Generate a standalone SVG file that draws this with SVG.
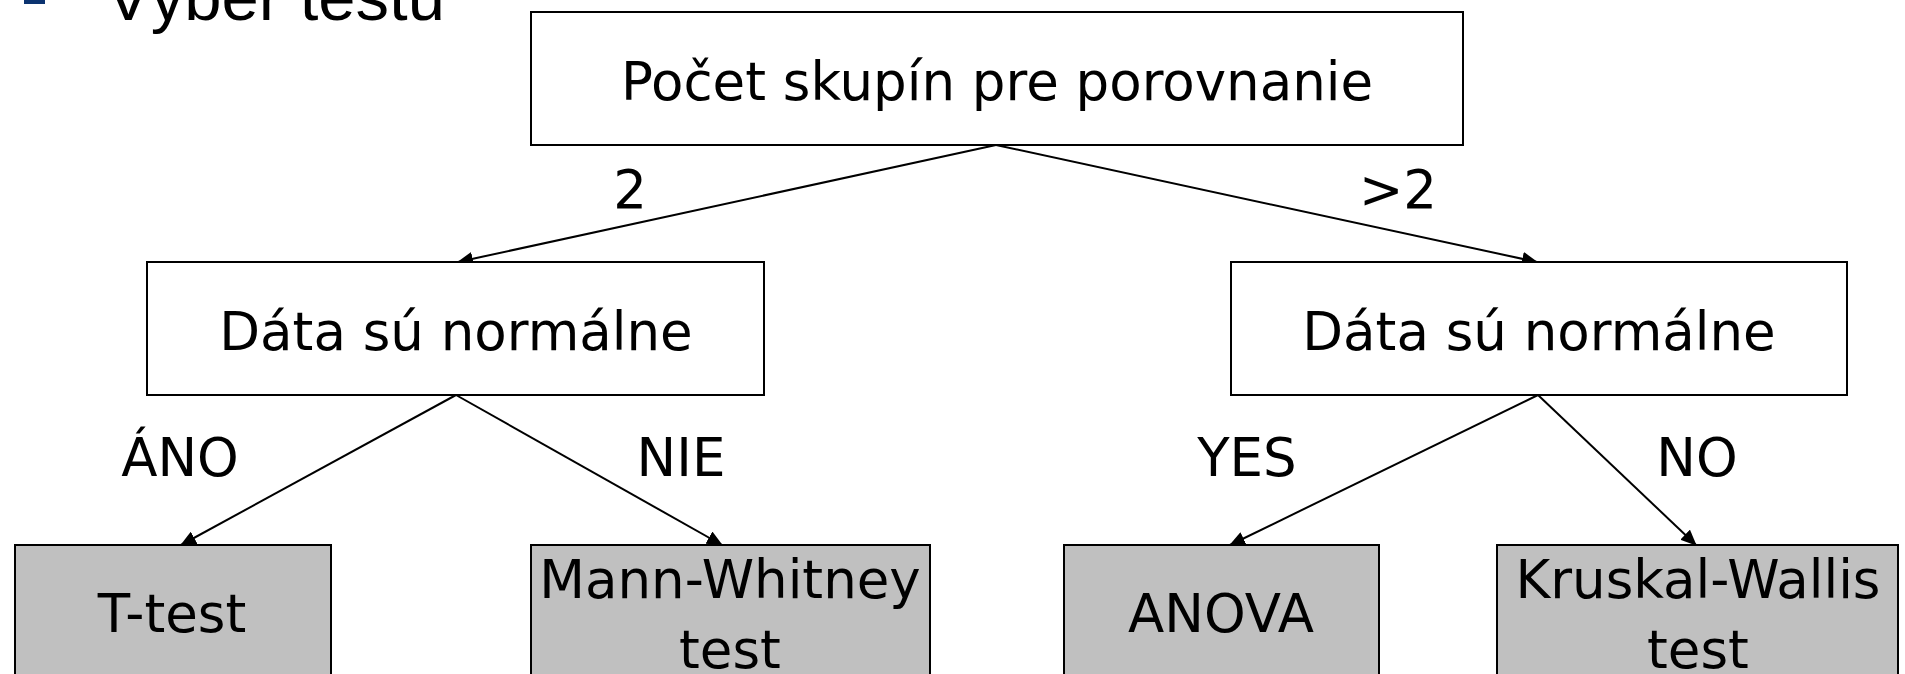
<svg xmlns="http://www.w3.org/2000/svg" width="1905" height="674" viewBox="0 0 1905 674">
  <style>
    .box { fill: #ffffff; stroke: #000000; stroke-width: 2; }
    .leaf { fill: #c0c0c0; stroke: #000000; stroke-width: 2; }
    .lbl { font-family: "DejaVu Sans", Verdana, sans-serif; font-size: 53px; fill: #000000; text-anchor: middle; }
    .title { font-family: "Liberation Sans", Arial, sans-serif; font-size: 67px; fill: #000000; }
    .edge { fill: none; stroke: #000000; stroke-width: 2; marker-end: url(#arrow); }
  </style>
  <defs>
    <marker id="arrow" markerUnits="userSpaceOnUse" markerWidth="16" markerHeight="14" refX="15" refY="7" orient="auto">
      <path d="M0,0 L16,7 L0,14 Z" fill="#000000"/>
    </marker>
  </defs>

  <rect width="1905" height="674" fill="#ffffff"/>

  <!-- heading -->
  <g id="heading">
    <rect x="24" y="0" width="21" height="4" fill="#0b3370"/>
    <text class="title" x="106" y="20">Výber testu</text>
  </g>

  <!-- connectors -->
  <g id="connectors">
    <line class="edge" x1="996" y1="145" x2="458" y2="262"/>
    <line class="edge" x1="996" y1="145" x2="1537" y2="262"/>
    <line class="edge" x1="456" y1="395" x2="181" y2="545"/>
    <line class="edge" x1="456" y1="395" x2="722" y2="545"/>
    <line class="edge" x1="1538" y1="395" x2="1230" y2="545"/>
    <line class="edge" x1="1538" y1="395" x2="1696" y2="545"/>
    <text class="lbl" x="630" y="208">2</text>
    <text class="lbl" x="1398" y="208">&gt;2</text>
    <text class="lbl" x="180" y="476">ÁNO</text>
    <text class="lbl" x="681" y="476">NIE</text>
    <text class="lbl" x="1247" y="476">YES</text>
    <text class="lbl" x="1697" y="476">NO</text>
  </g>

  <g id="groups">
    <rect class="box" x="531" y="12" width="932" height="133"/>
    <text class="lbl" x="997" y="100">Počet skupín pre porovnanie</text>
  </g>

  <g id="normal-2">
    <rect class="box" x="147" y="262" width="617" height="133"/>
    <text class="lbl" x="456" y="350">Dáta sú normálne</text>
  </g>

  <g id="normal-many">
    <rect class="box" x="1231" y="262" width="616" height="133"/>
    <text class="lbl" x="1539" y="350">Dáta sú normálne</text>
  </g>

  <g id="t-test">
    <rect class="leaf" x="15" y="545" width="316" height="140"/>
    <text class="lbl" x="172" y="632">T-test</text>
  </g>

  <g id="mann-whitney">
    <rect class="leaf" x="531" y="545" width="399" height="140"/>
    <text class="lbl" x="730" y="598">Mann-Whitney</text>
    <text class="lbl" x="730" y="668">test</text>
  </g>

  <g id="anova">
    <rect class="leaf" x="1064" y="545" width="315" height="140"/>
    <text class="lbl" x="1221" y="632">ANOVA</text>
  </g>

  <g id="kruskal-wallis">
    <rect class="leaf" x="1497" y="545" width="401" height="140"/>
    <text class="lbl" x="1698" y="598">Kruskal-Wallis</text>
    <text class="lbl" x="1698" y="668">test</text>
  </g>
</svg>
